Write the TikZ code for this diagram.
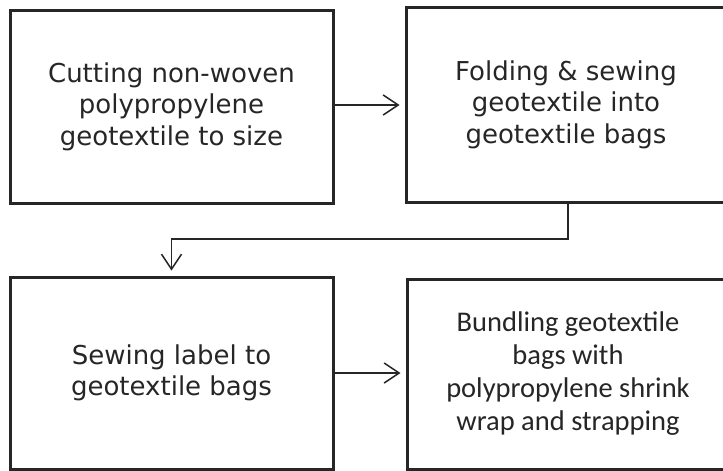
\documentclass[tikz,border=0pt]{standalone}
\usepackage{fontspec}
\setmainfont{DejaVu Sans}
\newfontfamily\carlito{Carlito}
\usetikzlibrary{arrows.meta}
\definecolor{ink}{HTML}{262626}

\begin{document}
\begin{tikzpicture}[x=1pt, y=-1pt,
    stepbox/.style={draw=ink, text=ink, line width=3pt, align=center,
        inner sep=0pt, font=\fontsize{26}{31.5}\selectfont},
    flow/.style={draw=ink, line width=1.5pt,
        -{Straight Barb[length=15pt, width=20pt, line width=1.5pt]}}]
    \useasboundingbox[fill=white] (0,0) rectangle (723,471);

    \node[stepbox, minimum width=323, minimum height=193] at (171.5, 106.5)(cut)
        {Cutting non-woven\\polypropylene\\geotextile to size};
    \node[stepbox, minimum width=320, minimum height=195] at (566, 104.5)(fold)
        {Folding \& sewing\\geotextile into\\geotextile bags};
    \node[stepbox, minimum width=323, minimum height=192] at (171.5, 373)(label)
        {Sewing label to\\geotextile bags};
    \node[stepbox, minimum width=322, minimum height=190,
        font=\carlito\fontsize{28.5}{33}\selectfont] at (568, 374)(bundle)
        {Bundling geotextile\\bags with\\polypropylene shrink\\wrap and strapping};

    \coordinate (turn) at (568, 239);
    \draw[flow, shorten >=5pt] (cut.east |- 0,105) -- (fold.west |- 0,105);
    \draw[flow, shorten >=5pt] (fold.south -| turn) -- (turn) -| (label.north);
    \draw[flow, shorten >=5pt] (label.east |- 0,373) -- (bundle.west |- 0,373);

\end{tikzpicture}
\end{document}
